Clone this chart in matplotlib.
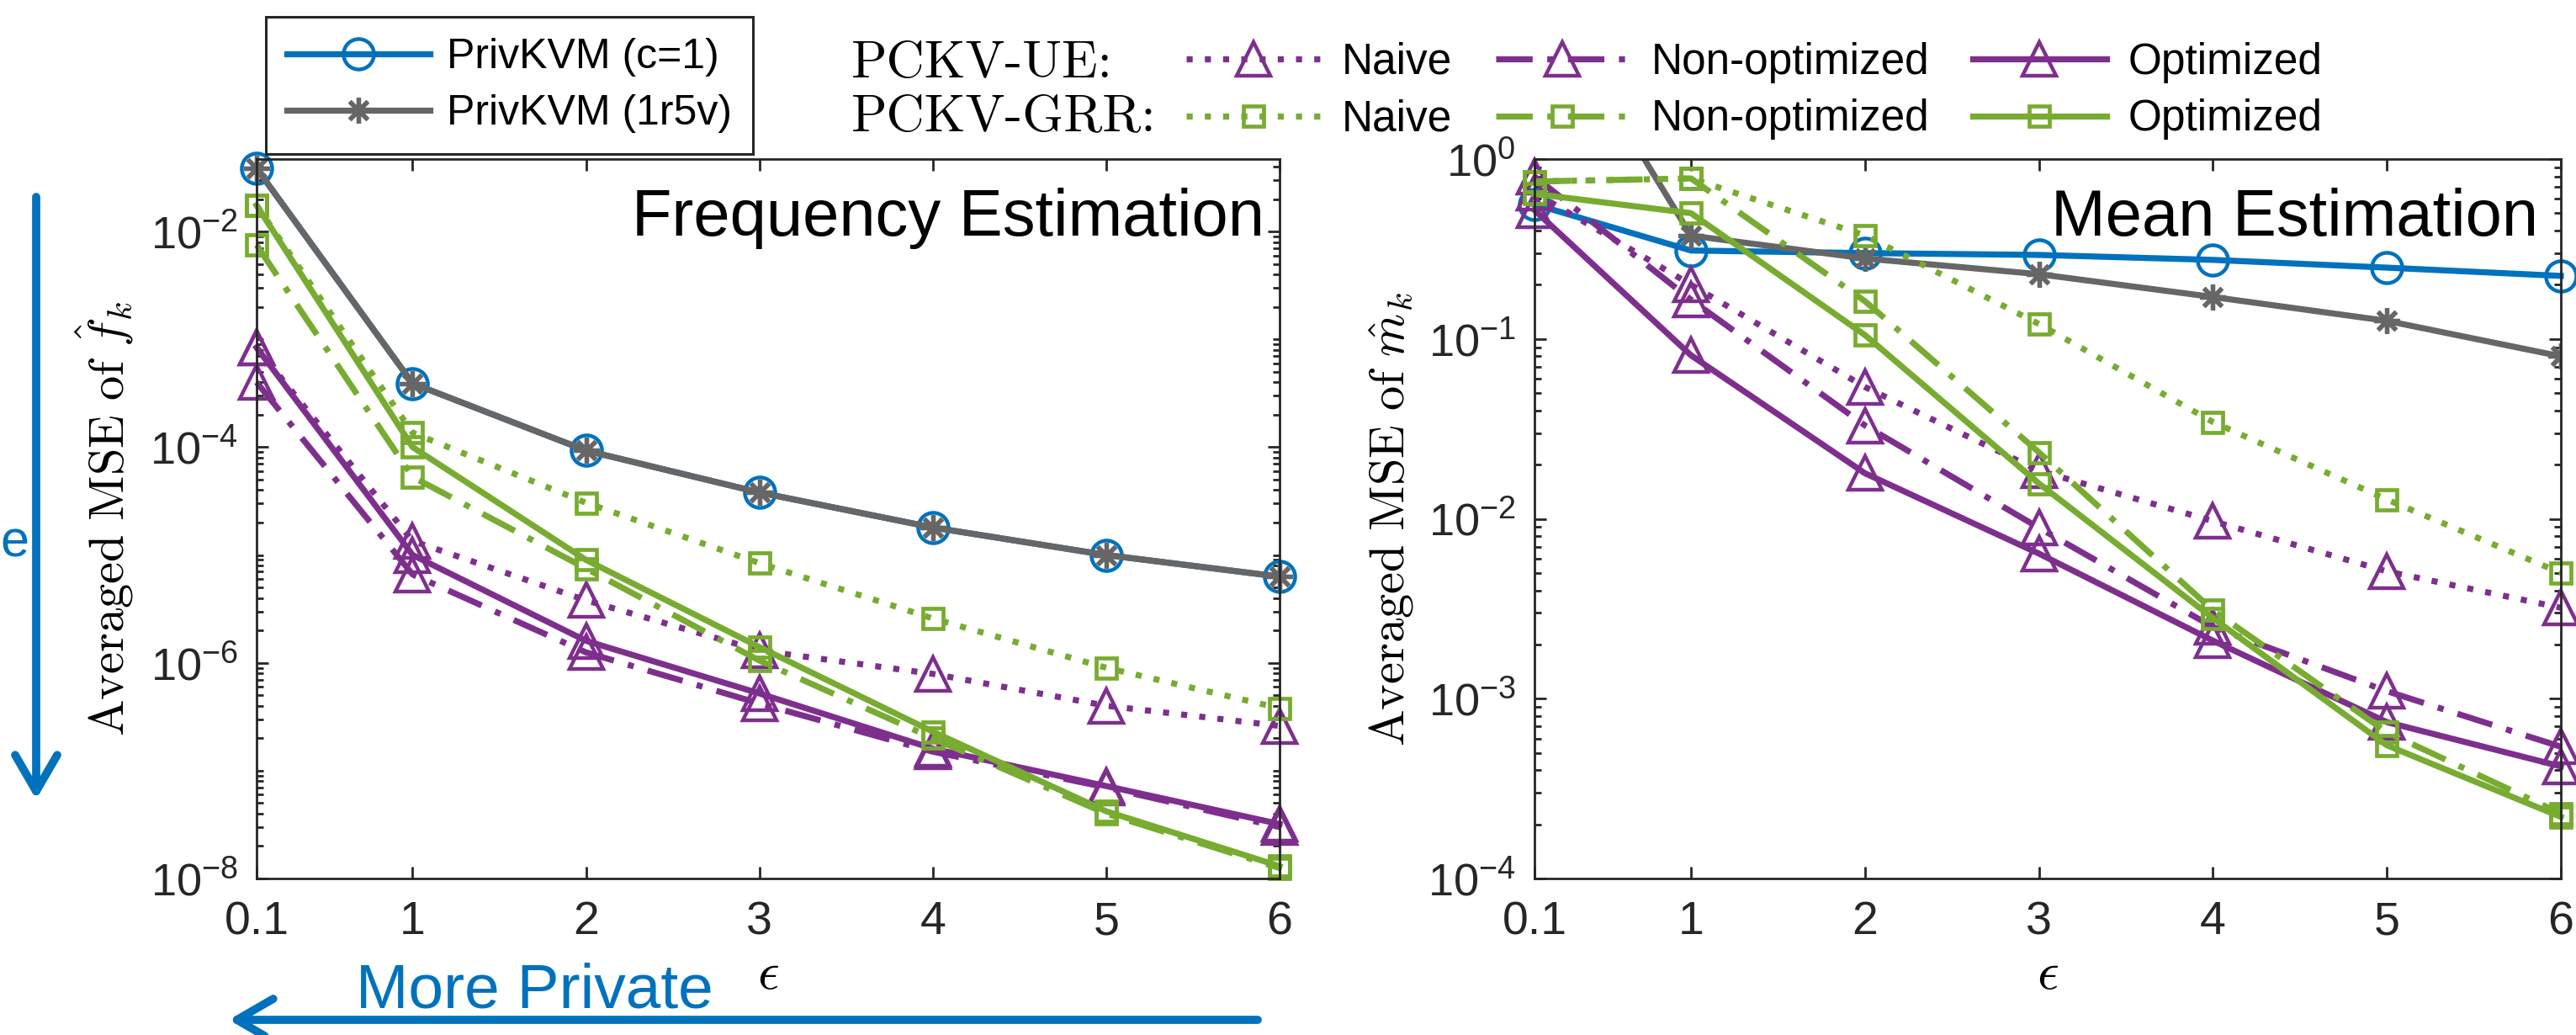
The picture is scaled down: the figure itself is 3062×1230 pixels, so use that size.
import math
import matplotlib
matplotlib.use("Agg")
import matplotlib.pyplot as plt
from matplotlib.patches import FancyArrowPatch
from matplotlib.ticker import FixedLocator, LogLocator, FuncFormatter, NullFormatter

plt.rcParams['font.family'] = ['Liberation Sans', 'DejaVu Sans']
plt.rcParams['mathtext.fontset'] = 'cm'

# privacy budget
eps = [0.1, 1, 2, 3, 4, 5, 6]
eps_labels = ['0.1', '1', '2', '3', '4', '5', '6']

# averaged MSE of frequency estimation
freq_kvm_c1 = [3.85e-2, 3.9e-4, 9.3e-5, 3.8e-5, 1.8e-5, 1.0e-5, 6.3e-6]
freq_kvm_1r5v = [3.85e-2, 3.9e-4, 9.3e-5, 3.8e-5, 1.8e-5, 1.0e-5, 6.3e-6]
freq_ue_naive = [8.4e-4, 1.35e-5, 3.8e-6, 1.3e-6, 7.9e-7, 4.0e-7, 2.6e-7]
freq_ue_nonopt = [4.0e-4, 6.6e-6, 1.25e-6, 4.2e-7, 1.5e-7, 7.0e-8, 3.0e-8]
freq_ue_opt = [8.4e-4, 1.0e-5, 1.6e-6, 5.2e-7, 1.6e-7, 7.2e-8, 3.2e-8]
freq_grr_naive = [1.75e-2, 1.36e-4, 3.05e-5, 8.4e-6, 2.58e-6, 9.0e-7, 3.8e-7]
freq_grr_nonopt = [7.5e-3, 5.3e-5, 7.5e-6, 1.05e-6, 2.0e-7, 4.0e-8, 1.25e-8]
freq_grr_opt = [1.75e-2, 1.0e-4, 9.0e-6, 1.4e-6, 2.3e-7, 4.2e-8, 1.3e-8]

# averaged MSE of mean estimation
mean_kvm_c1 = [0.56, 0.31, 0.30, 0.293, 0.275, 0.249, 0.224]
mean_kvm_1r5v = [10.0, 0.375, 0.28, 0.229, 0.171, 0.126, 0.080]
mean_ue_naive = [0.65, 0.20, 0.054, 0.0185, 0.0097, 0.0051, 0.0032]
mean_ue_nonopt = [0.80, 0.165, 0.033, 0.0089, 0.0025, 0.0011, 5.4e-4]
mean_ue_opt = [0.52, 0.081, 0.0179, 0.0064, 0.0021, 7.4e-4, 4.2e-4]
mean_grr_naive = [0.75, 0.78, 0.376, 0.121, 0.0345, 0.0128, 0.005]
mean_grr_nonopt = [0.75, 0.78, 0.162, 0.0234, 0.0031, 6.5e-4, 2.3e-4]
mean_grr_opt = [0.64, 0.50, 0.105, 0.0157, 0.0028, 5.5e-4, 2.2e-4]

BLUE = '#0072BD'
GREY = '#666666'
PURPLE = '#7E2F8E'
GREEN = '#77AC30'
AXC = '#262626'

LW = 5.2
DOT = (0, (1, 2.0))
DASHDOT = (0, (6, 2.4, 1, 2.4))

W, H = 3062, 1230
fig = plt.figure(figsize=(W / 100, H / 100), dpi=100)


def px(x, y):
    # pixel position (from top-left) -> figure fraction
    return x / W, 1 - y / H


ax1 = fig.add_axes([305 / W, 1 - 1044 / H, 1216 / W, 855 / H])
ax2 = fig.add_axes([1824 / W, 1 - 1044 / H, 1220 / W, 855 / H])


def draw(ax, kvm, kvm2, ue, grr, grey_clip):
    hc1, = ax.plot(eps, kvm, color=BLUE, lw=LW, marker='o', ms=26, mfc='none',
                   mew=3.2, clip_on=False)
    hkv, = ax.plot(eps, kvm2, color=GREY, lw=LW, marker=(8, 2, 0), ms=22,
                   mew=3.8, clip_on=grey_clip)
    hue = []
    for y, ls in zip(ue, [DOT, DASHDOT, '-']):
        h, = ax.plot(eps, y, color=PURPLE, lw=LW, ls=ls, marker='^', ms=29,
                     mfc='none', mew=3.2, clip_on=False)
        hue.append(h)
    hgrr = []
    for y, ls in zip(grr, [DOT, DASHDOT, '-']):
        h, = ax.plot(eps, y, color=GREEN, lw=LW, ls=ls, marker='s', ms=17,
                     mfc='none', mew=3.4, clip_on=False)
        hgrr.append(h)
    return hc1, hkv, hue, hgrr


hc1, hkv, hue, hgrr = draw(ax1, freq_kvm_c1, freq_kvm_1r5v,
                           [freq_ue_naive, freq_ue_nonopt, freq_ue_opt],
                           [freq_grr_naive, freq_grr_nonopt, freq_grr_opt], False)
draw(ax2, mean_kvm_c1, mean_kvm_1r5v,
     [mean_ue_naive, mean_ue_nonopt, mean_ue_opt],
     [mean_grr_naive, mean_grr_nonopt, mean_grr_opt], True)

sci = FuncFormatter(lambda v, p: r'$\mathregular{10^{%d}}$' % round(math.log10(v)))

for ax in (ax1, ax2):
    ax.set_yscale('log')
    ax.set_xlim(0.1, 6)
    ax.set_xticks(eps)
    ax.set_xticklabels(eps_labels)
    ax.yaxis.set_major_formatter(sci)
    ax.yaxis.set_minor_formatter(NullFormatter())
    ax.tick_params(which='both', direction='in', top=True, right=True,
                   color=AXC, width=2, labelcolor=AXC)
    ax.tick_params(which='major', length=10)
    ax.tick_params(which='minor', length=5.5)
    ax.tick_params(axis='x', labelsize=40, pad=19)
    ax.tick_params(axis='y', labelsize=39, pad=16)
    for s in ax.spines.values():
        s.set_color(AXC)
        s.set_linewidth(2)
    ax.set_xlabel(r'$\epsilon$', fontsize=46, labelpad=4)

ax1.set_ylim(1e-8, 4.7e-2)
ax1.yaxis.set_major_locator(FixedLocator([1e-8, 1e-6, 1e-4, 1e-2]))
ax1.yaxis.set_minor_locator(LogLocator(base=10, subs=range(1, 10), numticks=100))
ax1.set_ylabel(r'$\mathrm{Averaged\ MSE\ of\ }\hat{f}_k$', fontsize=42, labelpad=12)
ax1.text(0.985, 0.96, 'Frequency Estimation', transform=ax1.transAxes,
         ha='right', va='top', fontsize=56)

ax2.set_ylim(1e-4, 1)
ax2.yaxis.set_major_locator(FixedLocator([1e-4, 1e-3, 1e-2, 1e-1, 1]))
ax2.yaxis.set_minor_locator(LogLocator(base=10, subs=range(2, 10), numticks=100))
ax2.set_ylabel(r'$\mathrm{Averaged\ MSE\ of\ }\hat{m}_k$', fontsize=42, labelpad=10)
ax2.text(0.978, 0.96, 'Mean Estimation', transform=ax2.transAxes,
         ha='right', va='top', fontsize=56)

# legends
leg1 = fig.legend(handles=[hc1, hkv], labels=['PrivKVM (c=1)', 'PrivKVM (1r5v)'],
                  loc='upper left', bbox_to_anchor=px(316, 20), fontsize=36,
                  frameon=True, fancybox=False, edgecolor=AXC, framealpha=1,
                  handlelength=3.4, handletextpad=0.4, borderpad=0.5,
                  labelspacing=0.42, borderaxespad=0)
leg1.get_frame().set_linewidth(2.2)

fig.legend(handles=[hue[0], hgrr[0], hue[1], hgrr[1], hue[2], hgrr[2]],
           labels=['Naive', 'Naive', 'Non-optimized', 'Non-optimized',
                   'Optimized', 'Optimized'],
           ncol=3, loc='upper left', bbox_to_anchor=px(1410, 50), fontsize=37,
           frameon=False, handlelength=3.1, handletextpad=0.5,
           columnspacing=1.0, borderpad=0, labelspacing=0.36, borderaxespad=0)

fig.text(*px(1012, 92), 'PCKV-UE:', family='cmr10', fontsize=45, va='baseline')
fig.text(*px(1012, 155), 'PCKV-GRR:', family='cmr10', fontsize=45, va='baseline')

# direction hints
for a, b in [((43, 234), (43, 950)), ((1495, 1212), (272, 1212))]:
    fig.add_artist(FancyArrowPatch(px(*a), px(*b), transform=fig.transFigure,
                                   arrowstyle='->,head_length=31,head_width=18',
                                   mutation_scale=1, lw=7, color=BLUE,
                                   shrinkA=0, shrinkB=0))
fig.text(*px(423, 1197), 'More Private', color=BLUE, fontsize=54, va='baseline')
fig.text(*px(0, 646), 'e', color=BLUE, fontsize=44, ha='left', va='center')

fig.savefig('out.png', dpi=100)
